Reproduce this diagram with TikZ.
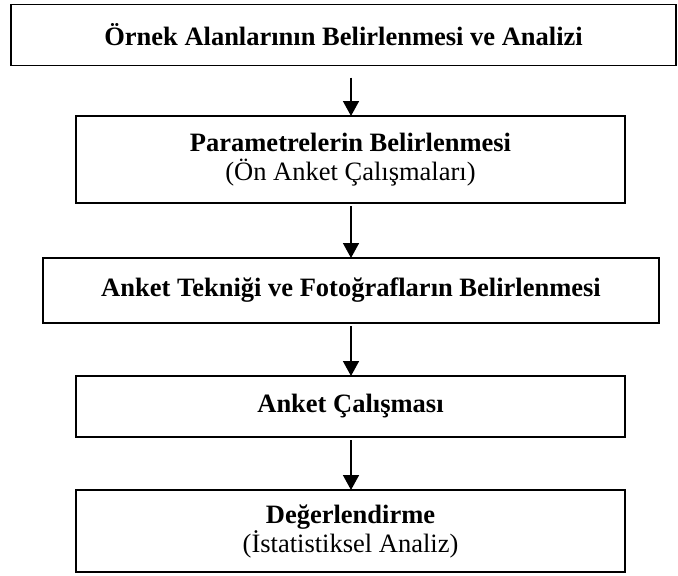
\documentclass[tikz,border=0pt]{standalone}
\usepackage{fontspec}
\setmainfont{Liberation Serif}
\usetikzlibrary{arrows.meta}
\begin{document}
\begin{tikzpicture}[x=1pt,y=-1pt,
  box/.style={draw=black,line width=1.8pt,inner sep=0pt,outer sep=0pt,align=center,
    font=\fontsize{26.5}{29}\selectfont},
  arr/.style={line width=1.6pt,-{Triangle[width=16pt,length=15pt]}}]
\useasboundingbox (0,0) rectangle (678,576);
\node[box,minimum width=665pt,minimum height=61pt] (b1) at (343.5,35) {\bfseries Örnek Alanlarının Belirlenmesi ve Analizi};
\node[box,minimum width=549pt,minimum height=87pt] (b2) at (350.5,159.5) {\bfseries Parametrelerin Belirlenmesi\\(Ön Anket Çalışmaları)};
\node[box,minimum width=616pt,minimum height=65pt] (b3) at (351,290.5) {\bfseries Anket Tekniği ve Fotoğrafların Belirlenmesi};
\node[box,minimum width=549pt,minimum height=61pt] (b4) at (350.5,406.5) {\bfseries Anket Çalışması};
\node[box,minimum width=549pt,minimum height=82pt] (b5) at (350.5,531) {\bfseries Değerlendirme\\(İstatistiksel Analiz)};
\coordinate (ax) at (351,0);
\draw[arr,shorten <=12pt] (b1.south -| ax) -- (b2.north -| ax);
\draw[arr,shorten <=3pt] (b2.south -| ax) -- (b3.north -| ax);
\draw[arr,shorten <=3pt] (b3.south -| ax) -- (b4.north -| ax);
\draw[arr,shorten <=3pt] (b4.south -| ax) -- (b5.north -| ax);
\end{tikzpicture}
\end{document}
